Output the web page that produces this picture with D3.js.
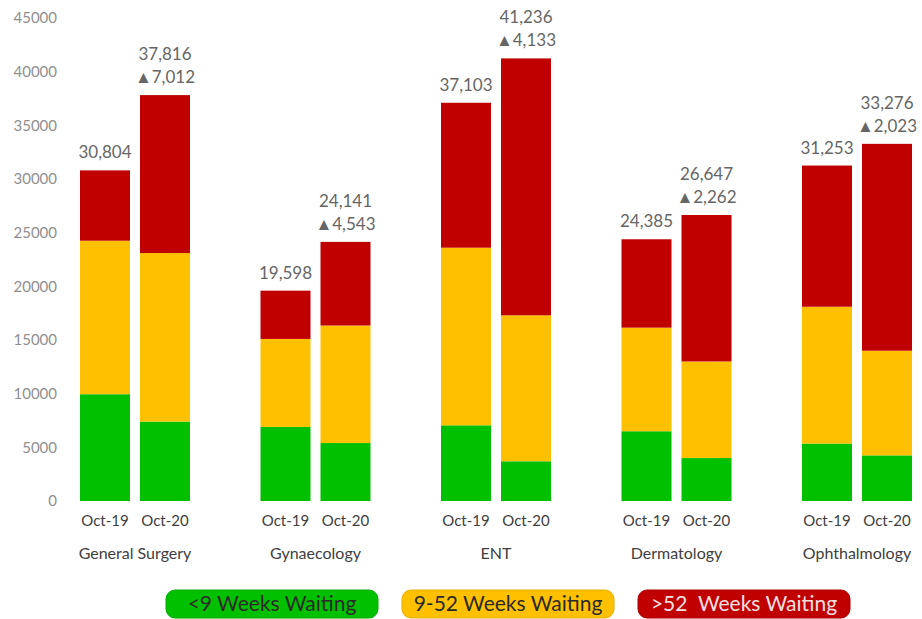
<!DOCTYPE html>
<html>
<head>
<meta charset="utf-8">
<script src="https://cdn.jsdelivr.net/npm/d3@7"></script>
<style>
    body { margin: 0; background: #fff; }
    svg { display: block; font-family: Lato, 'Open Sans', sans-serif; }
</style>
</head>
<body>
<svg></svg>
<script>
const width = 922;
const height = 619;

// data
const categories = ['General Surgery', 'Gynaecology', 'ENT', 'Dermatology', 'Ophthalmology'];
const periods = ['Oct-19', 'Oct-20'];
// [Oct-19, Oct-20] per category
const under9 = [[9950, 7400], [6900, 5400], [7050, 3700], [6500, 4000], [5350, 4250]];
const weeks9to52 = [[14300, 15700], [8200, 10950], [16550, 13600], [9650, 9000], [12750, 9750]];
const over52 = [[6554, 14716], [4498, 7791], [13503, 23936], [8235, 13647], [13153, 19276]];
const totals = [[30804, 37816], [19598, 24141], [37103, 41236], [24385, 26647], [31253, 33276]];
const changes = [7012, 4543, 4133, 2262, 2023];
const yTicks = [0, 5000, 10000, 15000, 20000, 25000, 30000, 35000, 40000, 45000];
const seriesNames = ['<9 Weeks Waiting', '9-52 Weeks Waiting', '>52  Weeks Waiting'];
const colors = ['#00c000', '#ffc000', '#c00000'];

const svg = d3.select('svg')
    .attr('width', width)
    .attr('height', height);

const y = d3.scaleLinear().domain([0, 45000]).range([501, 18]);

const x = d3.scaleBand().domain(categories).range([80, 912]).paddingInner(70.5 / 180.5);
const xInner = d3.scaleBand().domain(periods).range([0, x.bandwidth()]).paddingInner(10 / 60);

// y axis, labels only
const yAxis = d3.axisLeft(y).tickValues(yTicks).tickSize(0).tickPadding(0).tickFormat(d3.format('d'));
const yg = svg.append('g')
    .attr('transform', 'translate(57,0)')
    .call(yAxis);
yg.select('.domain').remove();
yg.selectAll('text')
    .attr('fill', '#8f8f8f')
    .style('font-size', '15px')
    .style('font-family', 'Lato, sans-serif');

// flatten into rows for the stack
const rows = [];
categories.forEach((c, i) => {
    periods.forEach((p, j) => {
        rows.push({
            cat: c, period: p, ci: i, pi: j,
            s0: under9[i][j], s1: weeks9to52[i][j], s2: over52[i][j],
            total: totals[i][j]
        });
    });
});

const stack = d3.stack().keys(['s0', 's1', 's2']);
const layers = stack(rows);

const g = svg.append('g');

g.selectAll('g.layer')
    .data(layers)
    .enter()
    .append('g')
    .attr('class', 'layer')
    .attr('fill', (d, i) => colors[i])
    .selectAll('rect')
    .data(d => d)
    .enter()
    .append('rect')
    .attr('x', d => x(d.data.cat) + xInner(d.data.period))
    .attr('y', d => y(d[1]))
    .attr('width', xInner.bandwidth())
    .attr('height', d => y(d[0]) - y(d[1]));

// total labels
const fmt = d3.format(',');
const labels = svg.append('g')
    .attr('fill', '#666')
    .attr('text-anchor', 'middle')
    .style('font-size', '17px');

labels.selectAll('text.total')
    .data(rows)
    .enter()
    .append('text')
    .attr('class', 'total')
    .attr('x', d => x(d.cat) + xInner(d.period) + xInner.bandwidth() / 2)
    .attr('y', d => y(d.total) - (d.pi === 1 ? 35 : 12))
    .text(d => fmt(d.total));

labels.selectAll('text.change')
    .data(rows.filter(d => d.pi === 1))
    .enter()
    .append('text')
    .attr('class', 'change')
    .attr('x', d => x(d.cat) + xInner(d.period) + xInner.bandwidth() / 2)
    .attr('y', d => y(d.total) - 12)
    .text(d => '\u25B2' + fmt(changes[d.ci]));

// period tick labels and category names
const xl = svg.append('g')
    .attr('fill', '#404040')
    .attr('text-anchor', 'middle');

xl.selectAll('text.period')
    .data(rows)
    .enter()
    .append('text')
    .attr('class', 'period')
    .attr('x', d => x(d.cat) + xInner(d.period) + xInner.bandwidth() / 2)
    .attr('y', 526)
    .style('font-size', '15px')
    .text(d => d.period);

xl.selectAll('text.cat')
    .data(categories)
    .enter()
    .append('text')
    .attr('class', 'cat')
    .attr('x', d => x(d) + x.bandwidth() / 2)
    .attr('y', 559)
    .style('font-size', '16px')
    .text(d => d);

// legend pills
const legend = svg.append('g')
    .selectAll('g')
    .data(seriesNames)
    .enter()
    .append('g')
    .attr('transform', (d, i) => 'translate(' + (166 + i * 236) + ',590)');

legend.append('rect')
    .attr('width', 212)
    .attr('height', 28)
    .attr('rx', 9)
    .attr('fill', (d, i) => colors[i])
    .attr('stroke', (d, i) => d3.color(colors[i]).darker(0.3))
    .attr('stroke-width', 1);

legend.append('text')
    .attr('x', 106)
    .attr('y', 21)
    .attr('text-anchor', 'middle')
    .attr('fill', (d, i) => i === 2 ? '#f5e0e0' : '#2a2a2a')
    .style('font-size', '21px')
    .style('white-space', 'pre')
    .text(d => d);
</script>
</body>
</html>
